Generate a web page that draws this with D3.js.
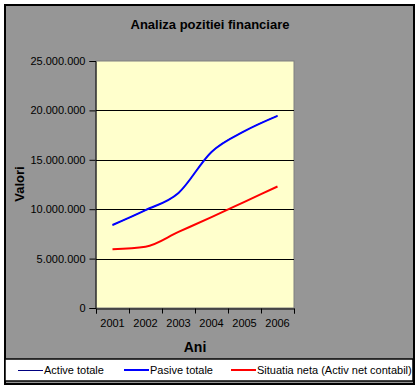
<!DOCTYPE html>
<html>
<head>
<meta charset="utf-8">
<script src="https://cdn.jsdelivr.net/npm/d3@7"></script>
<style>
  body { margin: 0; background: #fff; }
  text { font-family: "Liberation Sans", Arial, sans-serif; fill: #000; }
</style>
</head>
<body>
<div class="container"></div>
<script>
const years = ['2001', '2002', '2003', '2004', '2005', '2006'];
const activeTotale = [8400000, 9900000, 11650000, 15800000, 17900000, 19450000];
const pasiveTotale = [8400000, 9900000, 11650000, 15800000, 17900000, 19450000];
const situatiaNeta = [5950000, 6200000, 7700000, 9200000, 10750000, 12300000];
const yTicks = [0, 5000000, 10000000, 15000000, 20000000, 25000000];

const series = [
    { name: 'Active totale', values: activeTotale, color: '#000080', w: 1 },
    { name: 'Pasive totale', values: pasiveTotale, color: '#0000ff', w: 2 },
    { name: 'Situatia neta (Activ net contabil)', values: situatiaNeta, color: '#ff0000', w: 2 }
];

const width = 420;
const height = 390;
const plot = { left: 96, right: 294, top: 61, bottom: 308 };

const svg = d3.select('.container')
    .append('svg')
    .attr('width', width)
    .attr('height', height);

// chart background + frame
svg.append('rect')
    .attr('x', 5).attr('y', 5)
    .attr('width', 409).attr('height', 379)
    .style('fill', '#969696')
    .style('stroke', '#000')
    .style('stroke-width', 2);

svg.append('text')
    .attr('x', 210).attr('y', 29)
    .attr('text-anchor', 'middle')
    .style('font-size', '13px')
    .style('font-weight', 'bold')
    .text('Analiza pozitiei financiare');

const x = d3.scaleBand()
    .domain(years)
    .range([plot.left, plot.right]);

const y = d3.scaleLinear()
    .domain([0, 25000000])
    .range([plot.bottom, plot.top]);

svg.append('rect')
    .attr('x', plot.left).attr('y', plot.top)
    .attr('width', plot.right - plot.left)
    .attr('height', plot.bottom - plot.top)
    .style('fill', '#ffffcc')
    .style('stroke', '#808080')
    .style('stroke-width', 1);

// gridlines
svg.append('g')
    .selectAll('line')
    .data(yTicks.filter(d => d > 0 && d < 25000000))
    .join('line')
    .attr('x1', plot.left).attr('x2', plot.right)
    .attr('y1', d => Math.round(y(d)) + 0.5)
    .attr('y2', d => Math.round(y(d)) + 0.5)
    .style('stroke', '#000')
    .style('stroke-width', 1);

const fmt = d => d3.format(',')(d).replace(/,/g, '.');

const yAxis = svg.append('g')
    .attr('transform', 'translate(' + (plot.left - 0.5) + ',0)')
    .call(d3.axisLeft(y).tickValues(yTicks).tickFormat(fmt).tickSize(6).tickPadding(4));

const xAxis = svg.append('g')
    .attr('transform', 'translate(0,' + (plot.bottom + 0.5) + ')')
    .call(d3.axisBottom(x).tickSize(5).tickPadding(6));

// Excel style: x ticks sit between categories
xAxis.selectAll('.tick line').remove();
xAxis.append('g')
    .selectAll('line')
    .data(d3.range(years.length + 1))
    .join('line')
    .attr('x1', i => Math.round(plot.left + i * x.bandwidth()) + 0.5)
    .attr('x2', i => Math.round(plot.left + i * x.bandwidth()) + 0.5)
    .attr('y1', 0).attr('y2', 5)
    .style('stroke', '#000');

[yAxis, xAxis].forEach(a => {
    a.select('.domain').style('stroke', '#000');
    a.selectAll('.tick line').style('stroke', '#000');
    a.selectAll('text')
        .style('font-family', '"Liberation Sans", Arial, sans-serif')
        .style('font-size', '11px')
        .style('fill', '#000');
});

svg.append('text')
    .attr('transform', 'translate(24,184) rotate(-90)')
    .attr('text-anchor', 'middle')
    .style('font-size', '13px')
    .style('font-weight', 'bold')
    .text('Valori');

svg.append('text')
    .attr('x', 195).attr('y', 352)
    .attr('text-anchor', 'middle')
    .style('font-size', '14px')
    .style('font-weight', 'bold')
    .text('Ani');

const line = d3.line()
    .x((d, i) => x(years[i]) + x.bandwidth() / 2)
    .y(d => y(d))
    .curve(d3.curveMonotoneX);

svg.append('g')
    .selectAll('path')
    .data(series)
    .join('path')
    .attr('d', d => line(d.values))
    .style('fill', 'none')
    .style('stroke', d => d.color)
    .style('stroke-width', d => d.w);

// legend
svg.append('rect')
    .attr('x', 5).attr('y', 359)
    .attr('width', 408).attr('height', 22)
    .style('fill', '#fff')
    .style('stroke', '#000')
    .style('stroke-width', 1.5);

const legendX = [18, 124, 231];
const leg = svg.append('g')
    .selectAll('g')
    .data(series)
    .join('g')
    .attr('transform', (d, i) => 'translate(' + legendX[i] + ',370)');

leg.append('line')
    .attr('x1', 0).attr('x2', 25)
    .attr('y1', d => d.w === 1 ? 0.5 : 0)
    .attr('y2', d => d.w === 1 ? 0.5 : 0)
    .style('stroke', d => d.color)
    .style('stroke-width', d => d.w);

leg.append('text')
    .attr('x', 26).attr('y', 4)
    .style('font-size', '11px')
    .text(d => d.name);
</script>
</body>
</html>
